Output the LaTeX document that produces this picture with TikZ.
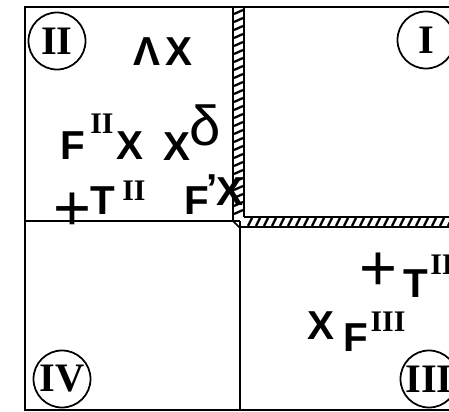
\documentclass[tikz,border=0pt]{standalone}
\usepackage{fontspec}
\newfontfamily\symfont{Liberation Sans}
\newfontfamily\numfont{Liberation Serif}
\usetikzlibrary{positioning}
\tikzset{
  sym/.style={font=\symfont\bfseries\fontsize{23}{25}\selectfont, inner sep=0pt},
  plussign/.style={font=\symfont\fontsize{37}{38}\selectfont, inner sep=0pt},
  supnum/.style={font=\numfont\bfseries\fontsize{17}{18}\selectfont, inner sep=0pt},
  quadnum/.style={circle, draw, line width=1pt, minimum size=11.4mm,
    font=\numfont\bfseries\fontsize{23}{24}\selectfont, inner sep=0pt},
  frame/.style={line width=1.1pt},
  divider/.style={line width=0.8pt},
  wall/.style={line width=0.9pt},
  tick/.style={line width=1.3pt}
}

\begin{document}
\begin{tikzpicture}[x=0.2mm, y=-0.2mm]
  \useasboundingbox (0,0) rectangle (449,412);

  % Outer frame (right side runs off the page)
  \draw[frame] (470,7) -- (25,7) -- (25,410) -- (470,410);
  \draw[divider] (25,221) -- (240,221);
  \draw[divider] (240,221) -- (240,410);

  % Hatched wall, vertical part
  \draw[wall] (233,7) -- (233,221);
  \draw[wall] (244,7) -- (244,217);
  \foreach \y in {10,18,...,210} {
    \draw[tick] (234,\y+4) -- (243,\y);
  }
  % Hatched wall, horizontal part
  \draw[wall] (244,217) -- (470,217);
  \draw[wall] (233,221) -- (239,227) -- (470,227);
  \foreach \x in {248,256,...,460} {
    \draw[tick] (\x,226) -- (\x+4,218);
  }

  % Quadrant numbers
  \node[quadnum] (qI)   at (426,40)  {I};
  \node[quadnum] (qII)  at (57,41)   {II};
  \node[quadnum] (qIII) at (429,379) {III};
  \node[quadnum] (qIV)  at (62,379)  {IV};

  % Quadrant II
  \node[sym] (lamx) at (163,52) {Λ\hspace{3pt}X};
  \node[sym] (fII)  at (73,146)  {F};
  \node[supnum] (fIIsup) at (102,124) {II};
  \node[sym] (xa)   at (130,146) {X};
  \node[sym] (xd)   at (177,147) {X};
  \node[font=\symfont\fontsize{32}{34}\selectfont, inner sep=0pt] (delta) at (205,125) {δ};
  \node[plussign] (plusII) at (72,212) {+};
  \node[sym] (tII)  at (103,201) {T};
  \node[supnum] (tIIsup) at (134,191) {II};
  \node[sym] (fp)   at (197,201) {F};
  \node[sym] (prime) at (212,189) {’};
  \node[sym] (xb)   at (230,192) {X};

  % Quadrant III
  \node[plussign] (plusIII) at (378,272) {+};
  \node[sym] (tIII) at (416,284) {T};
  \node[supnum, anchor=west] (tIIIsup) at (430,265) {II};
  \node[sym] (xc)   at (321,326) {X};
  \node[sym] (fIII) at (356,338) {F};
  \node[supnum] (fIIIsup) at (388,322) {III};
\end{tikzpicture}
\end{document}
